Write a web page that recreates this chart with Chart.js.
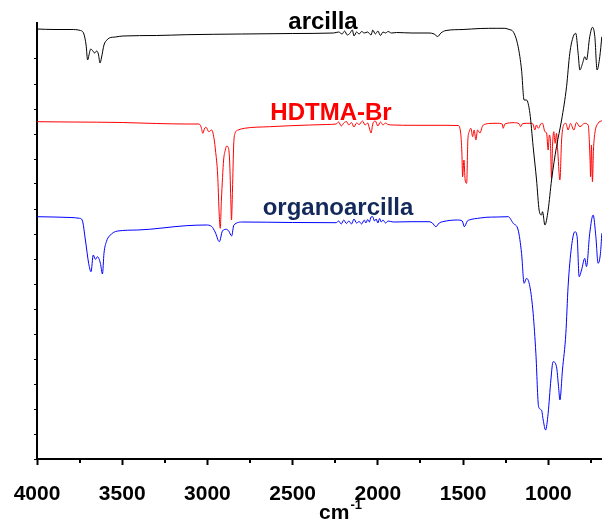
<!DOCTYPE html>
<html>
<head>
<meta charset="utf-8">
<script src="https://cdn.jsdelivr.net/npm/chart.js@4.4.0/dist/chart.umd.min.js"></script>
<style>
  html, body { margin: 0; padding: 0; background: #fff; }
  #wrap { width: 602px; height: 522px; }
</style>
</head>
<body>
<div id="wrap"><canvas id="myChart" width="602" height="522"></canvas></div>
<script>
// FTIR spectra: wavenumber (cm-1) vs transmittance (offset, arbitrary units)
const arcillaX = [4000,3900,3800,3745,3725,3712,3703,3695,3685,3672,3662,3650,3640,3630,3622,3607,3590,3576,3540,3496,3300,3125,2800,2500,2260,2230,2210,2195,2180,2165,2150,2140,2125,2110,2095,2080,2060,2040,2030,2015,2000,1985,1970,1955,1940,1920,1890,1800,1700,1670,1649,1630,1600,1500,1400,1300,1255,1230,1206,1177,1157,1142,1128,1108,1089,1069,1054,1040,1034,1020,1001,981,952,922,893,874,854,839,825,815,799,786,776,757,741,727,714,698,686];
const arcillaY = [430,429.5,429.5,428.5,425,414,399,404,410,408,406,408,405,396,401,414,419,421,422,423,423.5,424.3,425,425.5,426,427,425,428,424,425.5,429,423,427,425,427.5,426,427,424,429,425,428,423.5,427,426,427.5,426,426.5,426,426,425,422.5,426,428.5,429.5,430.5,430.7,430.7,429.5,427.3,412.3,389,359,359,345.7,312.3,279,249,244,247.3,234,249,279,312.3,339,372.3,405.7,422.3,425.7,405.7,389,395.7,402.3,399,422.3,431.7,422.3,389,402.3,422.3];

const hdtmaX = [4000,3800,3500,3300,3125,3050,3037,3027,3016,3008,2992,2975,2960,2953,2940,2932,2925,2918,2905,2895,2887,2880,2870,2862,2859,2853,2846,2838,2820,2783,2636,2400,2300,2245,2230,2215,2200,2185,2170,2155,2140,2125,2110,2090,2075,2060,2050,2040,2030,2015,2000,1985,1970,1955,1940,1910,1800,1600,1530,1515,1507,1503,1495,1488,1479,1472,1464,1454,1444,1435,1425,1415,1401,1386,1366,1350,1300,1270,1265,1255,1200,1170,1163,1150,1108,1090,1079,1070,1058,1045,1034,1020,1010,1001,994,988,981,975,968,960,952,945,932,922,913,897,884,870,850,835,815,786,766,755,752,747,741,735,727,708,686];
const hdtmaY = [337.3,337,336.5,335.5,335,335,332,325.7,331,331.7,327.3,329,319,309,284,249,230.7,259,299,309,313,312.3,299,254,239,269,314,325.7,329,330.7,332.3,334,334.5,335,337,333,336,337.5,334,336.5,332,336,334.5,338,334,336,331,326,335,338,333,337,334,336,334.5,334,333.7,333.7,333.5,327,306,282.3,299,279,275.7,319,327.3,330.7,322.3,329,319,329,326,333,335,335.5,335.7,335,330.7,335,336.3,335,332.3,335.5,335.7,335,329,334,330.7,335,335.7,327.3,326,309,324,319,280.7,314,327.3,315.7,325.7,309,279,319,332.3,335.7,329,335.5,329,336.5,332.3,335.7,334,299,282.3,314,277.3,309,325.7,335.7,338.3];

const organoX = [4000,3800,3750,3735,3716,3697,3683,3670,3657,3645,3628,3616,3607,3593,3575,3526,3409,3125,3008,2975,2955,2930,2912,2890,2875,2858,2845,2792,2500,2245,2230,2215,2200,2185,2170,2155,2140,2125,2110,2095,2080,2070,2060,2050,2040,2030,2020,2010,2000,1990,1980,1970,1955,1940,1910,1800,1700,1680,1660,1640,1620,1532,1505,1493,1475,1464,1400,1366,1300,1235,1206,1177,1157,1142,1128,1108,1089,1073,1057,1040,1030,1016,1001,985,972,952,940,932,917,897,884,864,844,831,819,805,786,776,757,737,721,708,694,686];
const organoY = [242.3,241.5,240.7,239,219,195.7,187.3,204,199.7,202.3,195.7,185,205.7,217.3,223,228,229,233.3,234,232.5,227,217.3,228,229.7,228,223,234,237,236.5,236.3,238,235,239,235.5,238,235,240,236,237.5,235,239,236,239.5,237,242,242.3,238,240,236,240.5,237,239,236,238,237,237.3,237.3,236,232.3,236,237.3,239,238,232.3,238,239,241,241.7,242,242.3,235.7,229,205.7,175.7,180.7,172.3,145.7,105.7,52.3,49,39,29,45.7,79,97.3,92.3,72.3,59,89,125.7,172.3,212.3,227.3,222.3,182.3,189,200.7,192.3,225.7,244,222.3,195.7,205.7,225.7];

const seriesNames = ["arcilla", "HDTMA-Br", "organoarcilla"];
const lineColors = ["#000000", "#ff0000", "#0000ff"];
const labelColors = ["#000000", "#ff0000", "#12295a"];
const majorTicks = [1000, 1500, 2000, 2500, 3000, 3500, 4000];
const minorTicks = [750, 1250, 1750, 2250, 2750, 3250, 3750];

const FONT = '"Liberation Sans", Arial, sans-serif';

function toPoints(xs, ys) {
  return xs.map((x, i) => ({ x: x, y: ys[i] }));
}

// series names written next to each trace + minor ticks + axis title
const decorPlugin = {
  id: "decor",
  afterDraw(chart) {
    const ctx = chart.ctx;
    const xs = chart.scales.x;
    const area = chart.chartArea;
    ctx.save();

    // minor x ticks
    ctx.strokeStyle = "#000";
    ctx.lineWidth = 2;
    minorTicks.forEach(v => {
      const px = Math.round(xs.getPixelForValue(v));
      if (px < area.left || px > area.right) return;
      ctx.beginPath();
      ctx.moveTo(px, area.bottom);
      ctx.lineTo(px, area.bottom + 4);
      ctx.stroke();
    });

    // labels
    ctx.font = "bold 24px " + FONT;
    ctx.textAlign = "center";
    ctx.textBaseline = "alphabetic";
    const labelPos = [[323, 29], [331, 120], [338, 215]];
    seriesNames.forEach((name, i) => {
      ctx.fillStyle = labelColors[i];
      ctx.fillText(name, labelPos[i][0], labelPos[i][1]);
    });

    // axis title cm-1
    ctx.fillStyle = "#000";
    ctx.textAlign = "left";
    ctx.font = "bold 21px " + FONT;
    const w1 = ctx.measureText("cm").width;
    ctx.font = "bold 13px " + FONT;
    const w2 = ctx.measureText("-1").width;
    const x0 = 340 - (w1 + w2) / 2;
    ctx.font = "bold 21px " + FONT;
    ctx.fillText("cm", x0, 519);
    ctx.font = "bold 13px " + FONT;
    ctx.fillText("-1", x0 + w1 + 1, 509);
    ctx.restore();
  }
};

const ctx = document.getElementById("myChart").getContext("2d");

new Chart(ctx, {
  type: "line",
  data: {
    datasets: [
      { label: seriesNames[0], data: toPoints(arcillaX, arcillaY) },
      { label: seriesNames[1], data: toPoints(hdtmaX, hdtmaY) },
      { label: seriesNames[2], data: toPoints(organoX, organoY) }
    ].map((d, i) => ({
      ...d,
      borderColor: lineColors[i],
      borderWidth: 1,
      pointRadius: 0,
      fill: false,
      cubicInterpolationMode: "monotone"
    }))
  },
  options: {
    responsive: false,
    animation: false,
    layout: { padding: { top: 23, left: 0, right: 0, bottom: 0 } },
    plugins: {
      legend: { display: false },
      tooltip: { enabled: false }
    },
    scales: {
      x: {
        type: "linear",
        reverse: true,
        min: 685,
        max: 4000,
        afterFit: scale => { scale.height = 63; },
        afterBuildTicks: scale => {
          scale.ticks = majorTicks.map(v => ({ value: v }));
        },
        border: { display: true, color: "#000", width: 2 },
        grid: { drawOnChartArea: false, drawTicks: true, tickLength: 6, tickColor: "#000", tickWidth: 2 },
        ticks: {
          color: "#000",
          padding: 17,
          maxRotation: 0,
          autoSkip: false,
          font: { family: FONT, size: 21, weight: "bold" },
          callback: v => String(v)
        }
      },
      y: {
        min: 0,
        max: 436,
        afterFit: scale => { scale.width = 37; },
        afterBuildTicks: scale => {
          scale.ticks = scale.ticks.filter(t => t.value % 25 === 0);
        },
        border: { display: true, color: "#000", width: 2 },
        grid: { drawOnChartArea: false, drawTicks: true, tickLength: 3, tickColor: "#000", tickWidth: 1 },
        ticks: { display: false, stepSize: 25 }
      }
    }
  },
  plugins: [decorPlugin]
});
</script>
</body>
</html>
